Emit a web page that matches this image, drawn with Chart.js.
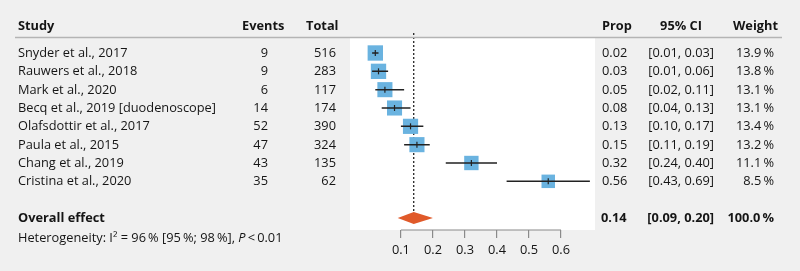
<!DOCTYPE html>
<html>
<head>
<meta charset="utf-8">
<script src="https://cdn.jsdelivr.net/npm/chart.js@4"></script>
<style>
  body { margin: 0; background: #f0f0f0; }
  #wrap { width: 800px; height: 271px; position: relative; }
</style>
</head>
<body>
<div id="wrap"><canvas id="forestChart"></canvas></div>
<script>
// Study data
const studies = ["Snyder et al., 2017", "Rauwers et al., 2018", "Mark et al., 2020",
  "Becq et al., 2019 [duodenoscope]", "Olafsdottir et al., 2017", "Paula et al., 2015",
  "Chang et al., 2019", "Cristina et al., 2020"];
const events = [9, 9, 6, 14, 52, 47, 43, 35];
const totals = [516, 283, 117, 174, 390, 324, 135, 62];
const props = [0.02, 0.03, 0.05, 0.08, 0.13, 0.15, 0.32, 0.56];
const ciLow = [0.01, 0.01, 0.02, 0.04, 0.10, 0.11, 0.24, 0.43];
const ciHigh = [0.03, 0.06, 0.11, 0.13, 0.17, 0.19, 0.40, 0.69];
const weights = [13.9, 13.8, 13.1, 13.1, 13.4, 13.2, 11.1, 8.5];
const overallProp = 0.14;
const overallLow = 0.09;
const overallHigh = 0.20;
const overallWeight = 100.0;
const xTicks = [0.1, 0.2, 0.3, 0.4, 0.5, 0.6];

const THIN = '\u2009';
const FONT = '"Open Sans", sans-serif';
const FS = '12.8px ';
const TEXT = '#151515';
const overallRow = studies.length + 1;
const yMin = -0.818, yMax = 9.655;

// whiskers as one line with gaps between studies
const whiskerData = [];
studies.forEach((s, i) => {
  whiskerData.push({ x: ciLow[i], y: i }, { x: ciHigh[i], y: i }, { x: ciHigh[i], y: null });
});

const squareData = props.map((p, i) => ({ x: p, y: i }));
const squareRadius = weights.map(w => (10.5 + 0.35 * w) / Math.SQRT2);

const dh = 0.33; // half height of the diamond in row units
const diamondData = [
  { x: overallLow, y: overallRow },
  { x: overallProp, y: overallRow - dh },
  { x: overallHigh, y: overallRow },
  { x: overallProp, y: overallRow + dh },
  { x: overallLow, y: overallRow }
];

const refLineData = [{ x: overallProp, y: -1.09 }, { x: overallProp, y: overallRow - dh }];
const axisLineData = [{ x: xTicks[0], y: yMax }, { x: xTicks[xTicks.length - 1], y: yMax }];

const fmtPct = v => v.toFixed(1) + THIN + '%';
const fmtCI = (lo, hi) => '[' + lo.toFixed(2) + ', ' + hi.toFixed(2) + ']';

// white panel behind the plot
const panelBg = {
  id: 'panelBg',
  beforeDraw(chart) {
    const { ctx, chartArea: a } = chart;
    ctx.save();
    ctx.fillStyle = '#ffffff';
    ctx.fillRect(a.left, a.top, a.right - a.left, a.bottom - a.top);
    ctx.restore();
  }
};

// table columns on both sides of the plot
const tableText = {
  id: 'tableText',
  afterDraw(chart) {
    const { ctx } = chart;
    const y = chart.scales.y;
    const rowY = i => y.getPixelForValue(i) + 0.5;
    ctx.save();
    ctx.fillStyle = TEXT;
    ctx.textBaseline = 'middle';

    // header
    const hy = y.getPixelForValue(-1.47);
    ctx.font = 'bold ' + FS + FONT;
    ctx.textAlign = 'left';
    ctx.fillText('Study', 18, hy);
    ctx.fillText('Events', 242, hy);
    ctx.fillText('Total', 306, hy);
    ctx.fillText('Prop', 602, hy);
    ctx.textAlign = 'center';
    ctx.fillText('95% CI', 681, hy);
    ctx.textAlign = 'right';
    ctx.fillText('Weight', 778, hy);

    ctx.strokeStyle = '#b4b4b4';
    ctx.lineWidth = 1.5;
    ctx.beginPath();
    ctx.moveTo(15, 37.5);
    ctx.lineTo(782, 37.5);
    ctx.stroke();

    // study rows
    ctx.font = FS + FONT;
    studies.forEach((s, i) => {
      const ry = rowY(i);
      ctx.textAlign = 'left';
      ctx.fillText(s, 18, ry);
      ctx.fillText(props[i].toFixed(2), 602, ry);
      ctx.textAlign = 'right';
      ctx.fillText(String(events[i]), 268, ry);
      ctx.fillText(String(totals[i]), 336, ry);
      ctx.fillText(fmtCI(ciLow[i], ciHigh[i]), 714, ry);
      ctx.fillText(fmtPct(weights[i]), 774, ry);
    });

    // overall row
    const oy = rowY(overallRow);
    ctx.font = 'bold ' + FS + FONT;
    ctx.textAlign = 'left';
    ctx.fillText('Overall effect', 18, oy);
    ctx.fillText(overallProp.toFixed(2), 601, oy);
    ctx.textAlign = 'right';
    ctx.fillText(fmtCI(overallLow, overallHigh), 714, oy);
    ctx.fillText(fmtPct(overallWeight), 774, oy);

    // heterogeneity line
    const het = y.getPixelForValue(10.09);
    ctx.textAlign = 'left';
    ctx.font = FS + FONT;
    let x = 18;
    const part1 = 'Heterogeneity: I² = 96' + THIN + '% [95' + THIN + '%; 98' + THIN + '%], ';
    ctx.fillText(part1, x, het);
    x += ctx.measureText(part1).width;
    ctx.font = 'italic ' + FS + FONT;
    ctx.fillText('P', x, het);
    x += ctx.measureText('P').width;
    ctx.font = FS + FONT;
    ctx.fillText(THIN + '<' + THIN + '0.01', x, het);
    ctx.restore();
  }
};

const ctx = document.getElementById('forestChart').getContext('2d');
new Chart(ctx, {
  type: 'line',
  data: {
    datasets: [
      {
        data: refLineData, borderColor: '#111', borderWidth: 1.2, borderDash: [2, 2],
        pointRadius: 0, clip: false, order: 6
      },
      {
        data: diamondData, borderWidth: 0, backgroundColor: '#e05a2a', fill: 'shape',
        pointRadius: 0, order: 5
      },
      {
        data: squareData, showLine: false, pointStyle: 'rect', pointRadius: squareRadius,
        backgroundColor: '#6ab3e0', borderWidth: 0, order: 4
      },
      {
        data: whiskerData, borderColor: '#222', borderWidth: 1.5, pointRadius: 0, order: 3
      },
      {
        data: squareData, showLine: false, pointStyle: 'line', rotation: 90, pointRadius: 3,
        borderColor: '#222', borderWidth: 1.2, order: 2
      },
      {
        data: axisLineData, borderColor: '#8a8a8a', borderWidth: 1.2, pointRadius: 0,
        clip: false, order: 1
      }
    ]
  },
  options: {
    responsive: true,
    maintainAspectRatio: false,
    animation: false,
    layout: { padding: { left: 350, right: 205, top: 38, bottom: 0 } },
    plugins: { legend: { display: false }, tooltip: { enabled: false } },
    elements: { line: { tension: 0 } },
    scales: {
      x: {
        type: 'linear', position: 'bottom', min: -0.059, max: 0.706,
        afterBuildTicks: s => { s.ticks = xTicks.map(v => ({ value: v })); },
        afterFit: s => { s.height = 41; },
        border: { display: false },
        grid: { drawOnChartArea: false, drawTicks: true, tickLength: 8, color: '#8a8a8a', lineWidth: 1.2 },
        ticks: {
          callback: v => v.toFixed(1), color: TEXT, padding: 4.5,
          font: { family: FONT, size: 12.8 }, maxRotation: 0, autoSkip: false
        }
      },
      y: { type: 'linear', reverse: true, min: yMin, max: yMax, display: false }
    }
  },
  plugins: [panelBg, tableText]
});
</script>
</body>
</html>
